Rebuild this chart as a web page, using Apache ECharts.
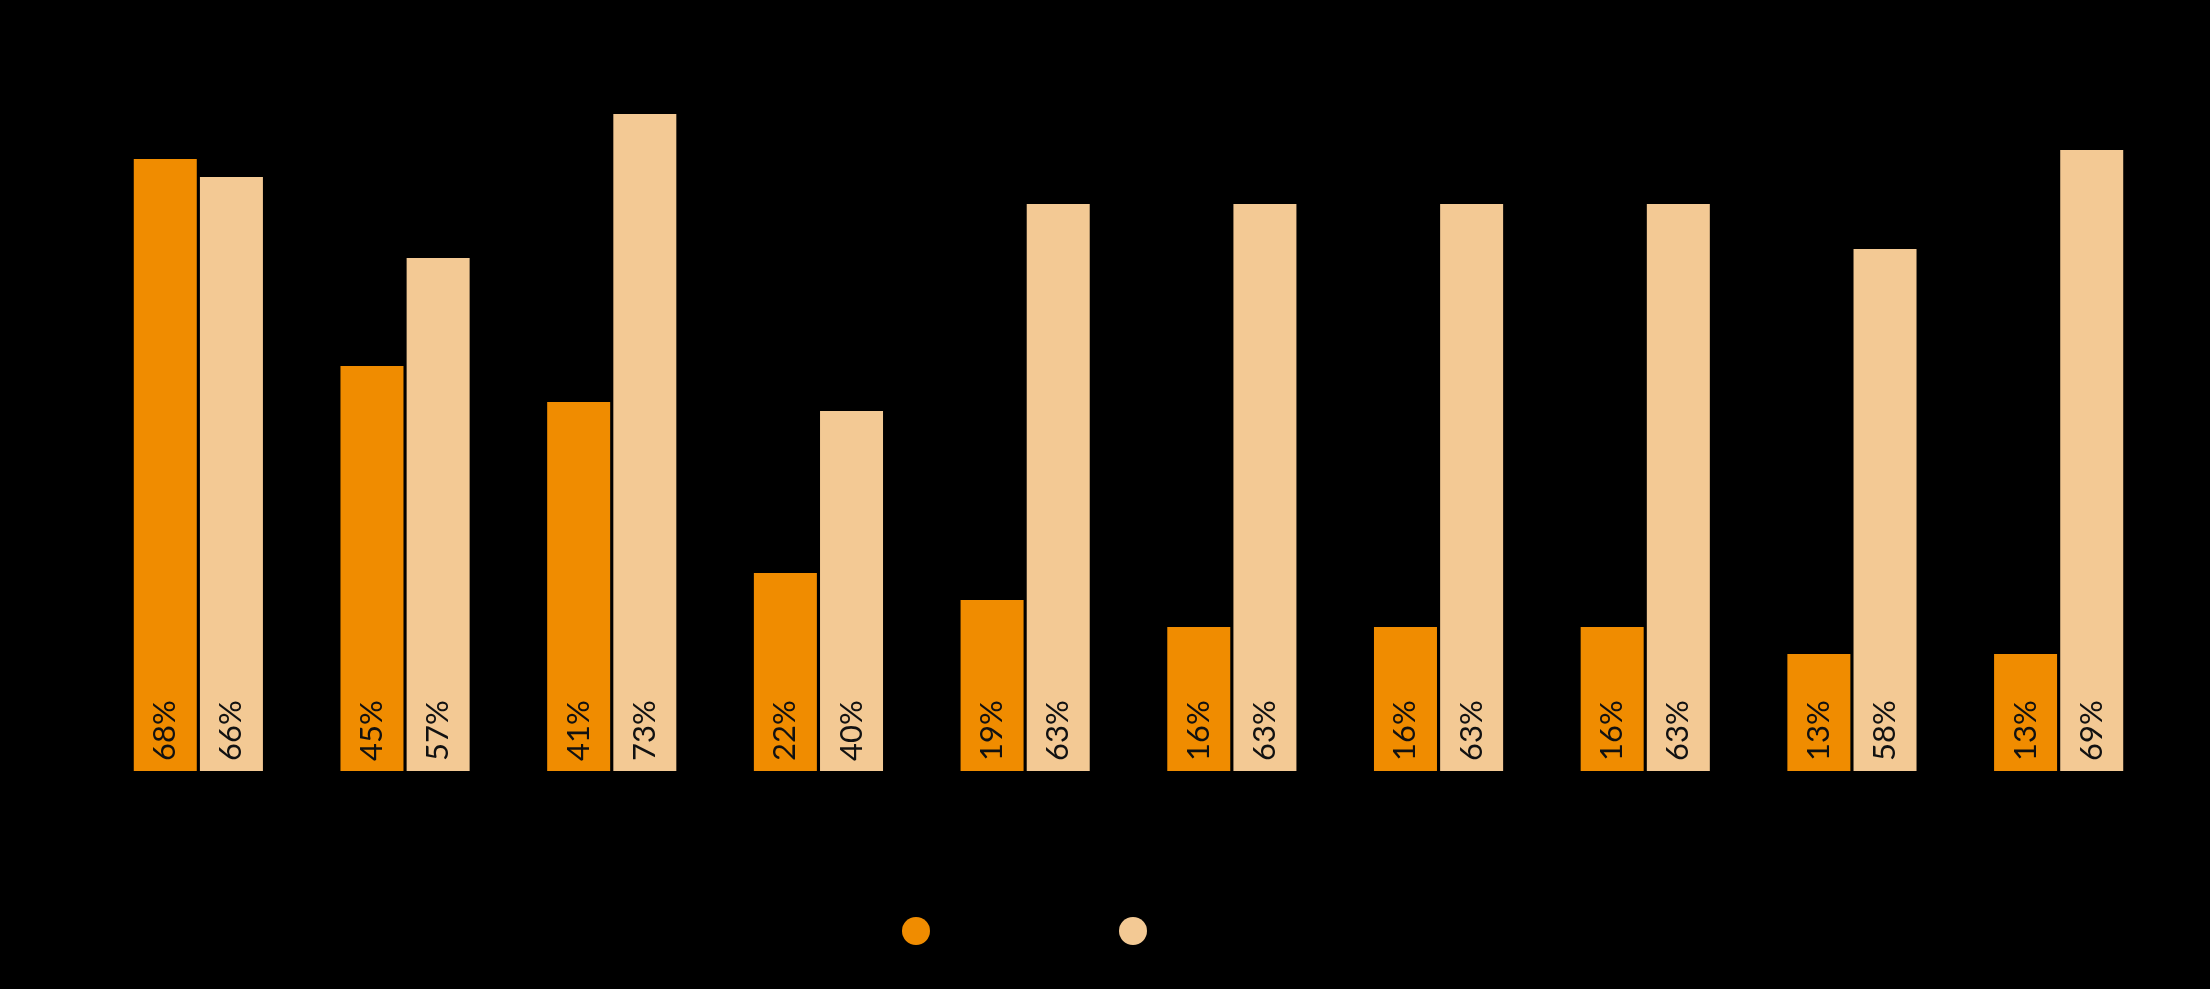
<!DOCTYPE html>
<html>
<head>
<meta charset="utf-8">
<script src="https://cdn.jsdelivr.net/npm/echarts@6/dist/echarts.min.js"></script>
<style>
  html, body { margin: 0; padding: 0; background: #000; }
  #chart { width: 2210px; height: 989px; }
</style>
</head>
<body>
<div id="chart"></div>
<script>
// values (category / legend texts are black on black in the source)
const categories = ['1', '2', '3', '4', '5', '6', '7', '8', '9', '10'];
const seriesNames = ['Series 1', 'Series 2'];
const darkValues = [68, 45, 41, 22, 19, 16, 16, 16, 13, 13];
const lightValues = [66, 57, 73, 40, 63, 63, 63, 63, 58, 69];
const yTicks = [0, 10, 20, 30, 40, 50, 60, 70, 80];

const darkColor = '#f08c00';
const lightColor = '#f3c994';

const chart = echarts.init(document.getElementById('chart'));

const barLabel = {
  show: true,
  position: 'insideBottom',
  rotate: 90,
  align: 'left',
  verticalAlign: 'middle',
  distance: 10,
  color: '#111',
  fontFamily: 'Lato',
  fontWeight: 400,
  fontSize: 31,
  formatter: p => p.value + '%'
};

chart.setOption({
  backgroundColor: '#000',
  animation: false,
  legend: [{
    left: 897, top: 912,
    icon: 'circle', itemWidth: 28, itemHeight: 28,
    textStyle: { color: '#000', fontSize: 26 },
    data: [seriesNames[0]]
  }, {
    left: 1114, top: 912,
    icon: 'circle', itemWidth: 28, itemHeight: 28,
    textStyle: { color: '#000', fontSize: 26 },
    data: [seriesNames[1]]
  }],
  grid: { left: 95, right: 48, top: 51, bottom: 218, containLabel: false },
  xAxis: {
    type: 'category',
    data: categories,
    axisLine: { show: false },
    axisTick: { show: false },
    axisLabel: { color: '#000', fontSize: 22, margin: 20 }
  },
  yAxis: {
    type: 'value',
    min: yTicks[0],
    max: yTicks[yTicks.length - 1],
    interval: 10,
    axisLabel: { show: false },
    splitLine: { lineStyle: { color: '#000' } }
  },
  series: [{
    name: seriesNames[0],
    type: 'bar',
    data: darkValues,
    barWidth: 63,
    barGap: '5%',
    itemStyle: { color: darkColor },
    label: barLabel
  }, {
    name: seriesNames[1],
    type: 'bar',
    data: lightValues,
    barWidth: 63,
    barGap: '5%',
    itemStyle: { color: lightColor },
    label: barLabel
  }]
});
</script>
</body>
</html>
